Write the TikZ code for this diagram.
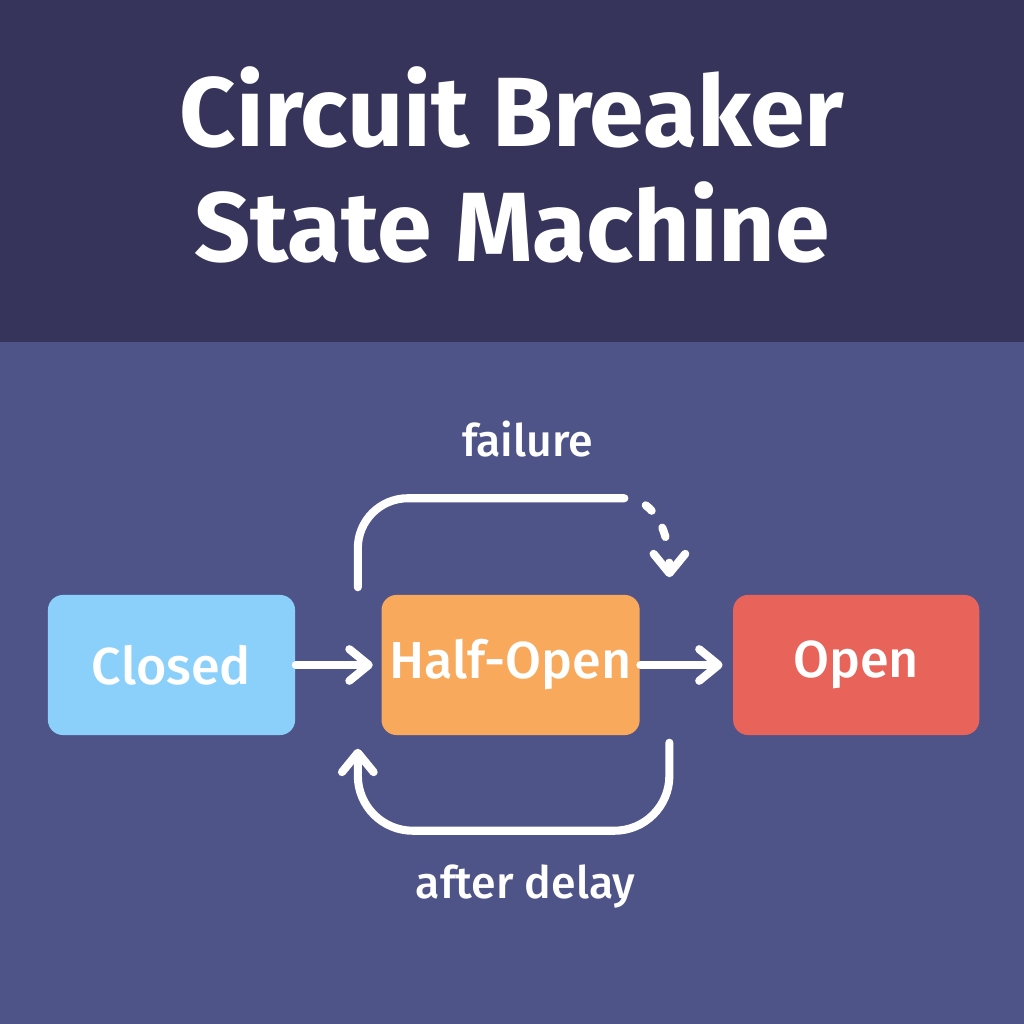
\documentclass[tikz,border=0pt]{standalone}
\usepackage{fontspec}
\setmainfont{Fira Sans}
\newfontfamily\medfont{Fira Sans Medium}
\usetikzlibrary{positioning, calc, arrows.meta}

\definecolor{banner}{HTML}{36345A}
\definecolor{canvas}{HTML}{4F5488}
\definecolor{closedblue}{HTML}{8AD0FB}
\definecolor{halforange}{HTML}{F8A95B}
\definecolor{openred}{HTML}{E8635A}

\tikzset{
	state/.style = {rounded corners=0.15cm, minimum height=1.4cm, inner sep=0pt, text=white, font=\medfont\fontsize{14.8}{18}\selectfont},
	flow/.style = {draw=white, line width=2.3pt, line cap=round, -{Straight Barb[round, length=5.5pt, width=9pt]}},
	tag/.style = {text=white, font=\medfont\fontsize{12.7}{15}\selectfont}
}

\begin{document}
\begin{tikzpicture}[x=0.01cm, y=0.01cm]
			\useasboundingbox (0,0) rectangle (1024,1024);
			\fill[canvas] (0,0) rectangle (1024,682);
			\fill[banner] (0,682) rectangle (1024,1024);
			\node[text=white, font=\bfseries\fontsize{28}{32.7}\selectfont, align=center, anchor=base] (title) at (512,762) {Circuit Breaker\\State Machine};
			% states
			\node[state, fill=closedblue, minimum width=2.47cm] (closed) at (171.5,359) {Closed};
			\node[state, fill=halforange, minimum width=2.58cm, right=0.85cm of closed] (half) {Half-Open};
			\node[state, fill=openred, minimum width=2.46cm, right=0.92cm of half] (open) {Open};
			\draw[flow, shorten >=2.3pt] (closed) -- (half);
			\draw[flow, shorten >=2.8pt] (half) -- (open);
			% failure loop
			\coordinate (failstart) at ($(half.north west)+(-23,7)$);
			\coordinate (failbend) at ($(half.north east)+(-16,96)$);
			\coordinate (failtip) at ($(open.north west)+(-63,17)$);
			\draw[draw=white, line width=2.3pt, line cap=round, rounded corners=0.5cm] (failstart) |- (failbend);
			\draw[flow, dash pattern=on 2.3pt off 5.7pt on 2.8pt off 7.4pt on 40pt off 6.5pt, dash phase=58.2pt] (failbend) .. controls ($(failbend)+(25,0)$) and ($(failtip)+(0,54)$) .. (failtip);
			\node[tag, anchor=base] (failtag) at ($(half.north)+(17,138)$) {failure};
			% delay loop
			\coordinate (delaystart) at ($(half.south east)+(29,-7)$);
			\coordinate (delaylow) at ($(half.south)+(0,-95)$);
			\coordinate (delaytip) at ($(half.south west)+(-23,-13)$);
			\draw[flow, rounded corners=0.55cm] (delaystart) |- (delaylow) -| (delaytip);
			\node[tag, anchor=base] (delaytag) at ($(half.south)+(15,-163)$) {after delay};
		\end{tikzpicture}
\end{document}
